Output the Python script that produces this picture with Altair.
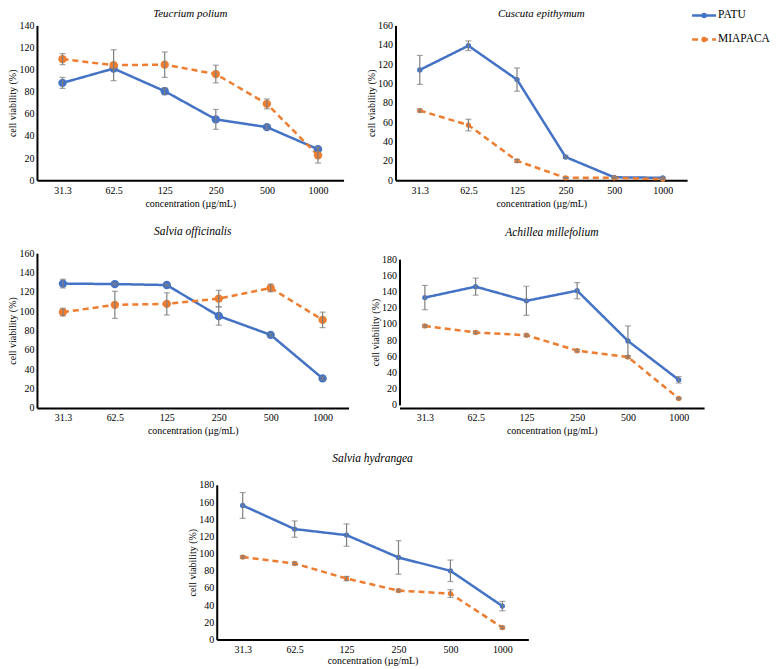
import altair as alt
import pandas as pd

concs = ["31.3", "62.5", "125", "250", "500", "1000"]
series_names = ["PATU", "MIAPACA"]

teucrium_patu = [88, 101, 80.5, 55, 48, 28]
teucrium_patu_err = [5, 0, 3, 9, 2, 2]
teucrium_mia = [109.5, 104, 104.5, 96, 69, 22.5]
teucrium_mia_err = [5, 14, 11.5, 8, 4.5, 7]

cuscuta_patu = [114, 139, 104, 24, 3, 2.5]
cuscuta_patu_err = [15, 5, 12, 1.5, 0.5, 0.5]
cuscuta_mia = [72, 57, 20, 2.5, 2.5, 1]
cuscuta_mia_err = [1.5, 6, 1.5, 0.5, 0.5, 0.5]

officinalis_patu = [128.5, 128, 127, 95, 75.5, 30.5]
officinalis_patu_err = [4.5, 1, 1, 9.5, 1.5, 1.5]
officinalis_mia = [99, 106.5, 107.5, 113, 124, 91]
officinalis_mia_err = [4, 14, 11.5, 8.5, 4, 8]

achillea_patu = [132.5, 146, 128.5, 141, 79, 31]
achillea_patu_err = [15, 10.5, 18, 10, 18.5, 4]
achillea_mia = [97.5, 89.5, 86, 67, 59, 8]
achillea_mia_err = [1.5, 1.5, 1.5, 1.5, 1.5, 1]

hydrangea_patu = [156, 128.5, 121.5, 95.5, 80, 39]
hydrangea_patu_err = [15, 9.5, 13, 19.5, 12.5, 5.5]
hydrangea_mia = [96, 88.5, 71, 57, 53.5, 14]
hydrangea_mia_err = [1.5, 1.5, 2.5, 1.5, 4.5, 1.5]

BLUE = "#4472C4"
ORANGE = "#ED7D31"
FONT = "Times New Roman"

color_scale = alt.Scale(domain=series_names, range=[BLUE, ORANGE])
dash_scale = alt.Scale(domain=series_names, range=[[1, 0], [6, 4]])


def make_df(patu, patu_err, mia, mia_err):
    rows = []
    for i, c in enumerate(concs):
        rows.append({"conc": c, "series": "PATU", "v": patu[i],
                     "lo": patu[i] - patu_err[i], "hi": patu[i] + patu_err[i], "o": i})
        rows.append({"conc": c, "series": "MIAPACA", "v": mia[i],
                     "lo": mia[i] - mia_err[i], "hi": mia[i] + mia_err[i], "o": i})
    return pd.DataFrame(rows)


def panel(title, patu, patu_err, mia, mia_err, ymax, w, h, size, title_offset=3,
          yrange=None, xtitle_pad=3, title_size=11.5):
    df = make_df(patu, patu_err, mia, mia_err)
    x = alt.X("conc:N", sort=concs, scale=alt.Scale(type="point", padding=0.5),
              axis=alt.Axis(title="concentration (µg/mL)", labelAngle=0,
                            titlePadding=xtitle_pad))
    if yrange is None:
        ysc = alt.Scale(domain=[0, ymax], nice=False)
    else:
        ysc = alt.Scale(domain=[0, ymax], nice=False, range=yrange)
    yaxis = alt.Axis(title="cell viability (%)", values=list(range(0, ymax + 1, 20)),
                     labelOverlap=False, tickCount=ymax // 20 + 1)
    y = alt.Y("v:Q", scale=ysc, axis=yaxis)
    ylo = alt.Y("lo:Q", scale=ysc, axis=yaxis)
    yhi = alt.Y("hi:Q", scale=ysc, axis=yaxis)
    base = alt.Chart(df)
    lines = base.mark_line(strokeWidth=2.5).encode(
        x=x, y=y,
        color=alt.Color("series:N", scale=color_scale, legend=None),
        strokeDash=alt.StrokeDash("series:N", scale=dash_scale, legend=None),
        order="o:Q",
    )
    pts = base.mark_point(filled=True, opacity=1, size=size).encode(
        x=x, y=y,
        color=alt.Color("series:N", scale=color_scale, legend=None),
    )
    err = base.mark_rule(color="#7f7f7f", strokeWidth=1.2).encode(
        x=x, y=ylo, y2="hi:Q")
    cap_hi = base.mark_tick(color="#7f7f7f", thickness=1.2, size=6, orient="horizontal").encode(x=x, y=yhi)
    cap_lo = base.mark_tick(color="#7f7f7f", thickness=1.2, size=6, orient="horizontal").encode(x=x, y=ylo)
    return alt.layer(lines, pts, err, cap_hi, cap_lo).properties(
        width=w, height=h,
        title=alt.TitleParams(title, font=FONT, fontStyle="italic", fontSize=title_size,
                              fontWeight="normal", offset=title_offset, color="black",
                              frame="group"),
    )


legend_df = pd.DataFrame({"series": series_names})
lbase = alt.Chart(legend_df)
ly = alt.Y("series:N", sort=series_names,
           scale=alt.Scale(type="point", padding=0, range=[-10, 14]), axis=None)
leg_line = lbase.mark_rule(strokeWidth=2.5).encode(
    x=alt.value(0), x2=alt.value(24), y=ly,
    color=alt.Color("series:N", scale=color_scale, legend=None),
    strokeDash=alt.StrokeDash("series:N", scale=dash_scale, legend=None))
leg_pt = lbase.mark_point(filled=True, opacity=1, size=30).encode(
    x=alt.value(12), y=ly, color=alt.Color("series:N", scale=color_scale, legend=None))
leg_txt = lbase.mark_text(align="left", baseline="middle", font=FONT, fontSize=11.5,
                          color="black").encode(x=alt.value(26), y=ly, text="series:N")
legend = alt.layer(leg_line, leg_pt, leg_txt).properties(width=40, height=25)

p1 = panel("Teucrium polium", teucrium_patu, teucrium_patu_err, teucrium_mia, teucrium_mia_err,
           140, 307, 155, 70, title_offset=1, title_size=11)
p2 = panel("Cuscuta epithymum", cuscuta_patu, cuscuta_patu_err, cuscuta_mia, cuscuta_mia_err,
           160, 292, 155, 28, title_offset=1, title_size=11)
p3 = panel("Salvia officinalis", officinalis_patu, officinalis_patu_err, officinalis_mia,
           officinalis_mia_err, 160, 312, 155, 70, title_offset=11)
p4 = panel("Achillea millefolium", achillea_patu, achillea_patu_err, achillea_mia,
           achillea_mia_err, 180, 305, 155, 28, title_offset=15, yrange=[152, 6])
p5 = panel("Salvia hydrangea", hydrangea_patu, hydrangea_patu_err, hydrangea_mia,
           hydrangea_mia_err, 180, 312, 155, 28, title_offset=15, xtitle_pad=1)

spacer = alt.Chart(pd.DataFrame({"a": [0]})).mark_point(opacity=0).encode(
    x=alt.X("a:Q", axis=None), y=alt.Y("a:Q", axis=None)).properties(width=151, height=1)

row1 = alt.hconcat(p1, alt.hconcat(p2, legend, spacing=3), spacing=23)
row2 = alt.hconcat(p3, p4, spacing=22)
row3 = alt.hconcat(spacer, p5, spacing=0)

chart = alt.vconcat(row1, row2, row3, spacing=17).properties(padding=0).configure_view(
    stroke=None
).configure_axis(
    grid=False, ticks=False, domainColor="black", domainWidth=2,
    labelFont=FONT, labelFontSize=10, labelColor="black", labelPadding=3,
    titleFont=FONT, titleFontSize=10, titleFontWeight="normal", titleColor="black",
    titlePadding=1,
).configure_axisX(labelPadding=5).configure_axisY(labelOverlap=False)

chart.save("out.html", embed_options={"renderer": "svg", "actions": False})
